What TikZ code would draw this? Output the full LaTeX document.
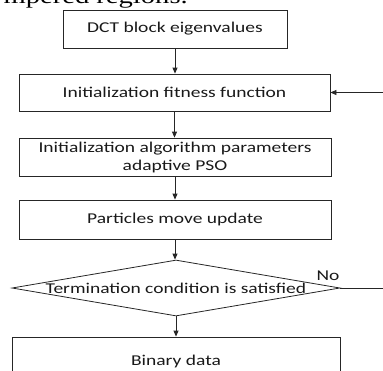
\documentclass[tikz,border=0pt]{standalone}
\usepackage{fontspec}
\setmainfont[FakeStretch=1.3]{Carlito}
\newfontfamily\bodyserif[FakeStretch=1.3]{Liberation Serif}
\usetikzlibrary{arrows.meta,shapes.geometric}

\tikzset{
  flowbox/.style={draw=black!85, line width=0.8pt, rectangle, inner sep=0pt,
    font=\fontsize{15}{18}\selectfont, text=black!90, align=center},
  decision/.style={draw=black!85, line width=0.8pt, diamond, inner sep=0pt,
    aspect=5.86, minimum width=328pt, minimum height=56pt},
  flowlabel/.style={font=\fontsize{15}{18}\selectfont, text=black!90, inner sep=0pt},
  arr/.style={draw=black!85, line width=0.8pt, -{Triangle[length=6pt,width=5pt]}},
  link/.style={draw=black!75, line width=0.8pt}
}

\begin{document}
\begin{tikzpicture}[x=1pt, y=-1pt]
  \useasboundingbox (0,0) rectangle (383,370);
  \clip (0,0) rectangle (383,370);

  % tail of the preceding paragraph
  \node[anchor=base east, inner sep=0pt, font=\bodyserif\fontsize{22}{24}\selectfont]
    (para) at (188,3) {mpered regions.};

  % flow chart boxes
  \node[flowbox, minimum width=224pt, minimum height=38pt] (dct) at (175,29)
    {DCT block eigenvalues};
  \node[flowbox, minimum width=311pt, minimum height=37pt] (fit) at (174.5,92.5)
    {Initialization fitness function};
  \node[flowbox, minimum width=312pt, minimum height=38pt] (par) at (175,157)
    {Initialization algorithm parameters\\adaptive PSO};
  \node[flowbox, minimum width=312pt, minimum height=39pt] (upd) at (175,219.5)
    {Particles move update};
  \node[decision] (term) at (176,288) {};
  \node[flowlabel] (termtext) at (term.center)
    {Termination condition is satisfied};
  \node[flowbox, minimum width=328pt, minimum height=48pt] (bin) at (176,361)
    {Binary data};

  % connectors
  \draw[arr] (dct.south) -- (dct.south |- fit.north);
  \draw[arr] (fit.south) -- (fit.south |- par.north);
  \draw[arr] (par.south) -- (par.south |- upd.north);
  \draw[arr] (upd.south) -- (upd.south |- term.north);
  \draw[arr] (term.south) -- (term.south |- bin.north);

  % loop back when the condition fails
  \draw[arr] (term.east) -- ++(60,0) |- (fit.east);
  \node[flowlabel] (no) at (328,276) {No};
\end{tikzpicture}
\end{document}
